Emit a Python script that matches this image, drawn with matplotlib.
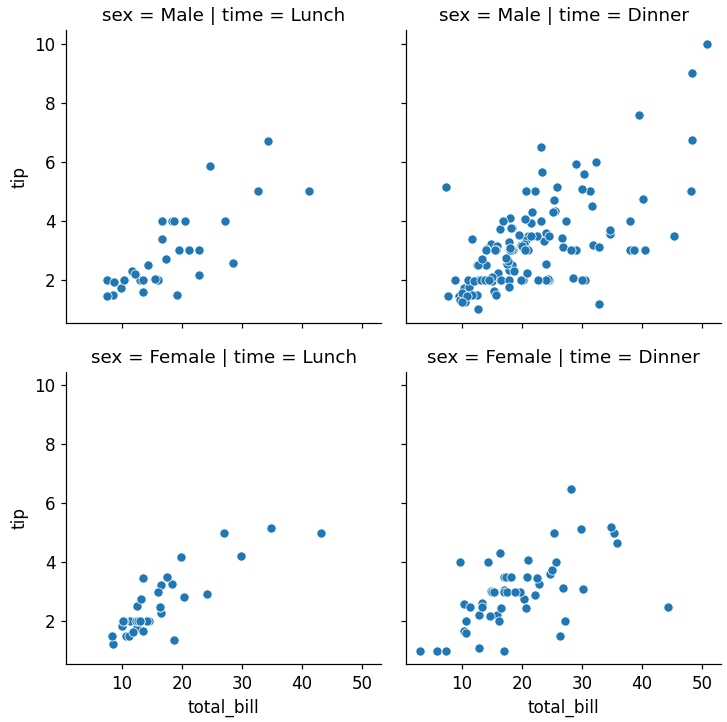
import pandas as pd
import seaborn as sns
import matplotlib.pyplot as plt

# tips data, split by panel (sex / time)
male_lunch_bill = [27.20, 22.76, 17.29, 19.44, 16.66, 32.68, 15.98, 13.03, 18.28, 24.71,
                   21.16, 11.69, 14.26, 15.95, 8.52, 22.82, 19.08, 16.00, 34.30, 41.19,
                   9.78, 7.51, 28.44, 15.48, 16.58, 7.56, 10.34, 13.51, 18.71, 20.53,
                   12.16, 8.58, 13.42]
male_lunch_tip = [4.00, 3.00, 2.71, 3.00, 3.40, 5.00, 2.03, 2.00, 4.00, 5.85,
                  3.00, 2.31, 2.50, 2.00, 1.48, 2.18, 1.50, 2.00, 6.70, 5.00,
                  1.73, 2.00, 2.56, 2.02, 4.00, 1.44, 2.00, 2.00, 4.00, 4.00,
                  2.20, 1.92, 1.58]

male_dinner_bill = [10.34, 21.01, 23.68, 25.29, 8.77, 26.88, 15.04, 14.78, 10.27, 15.42,
                    18.43, 21.58, 16.29, 20.65, 17.92, 39.42, 19.82, 17.81, 13.37, 12.69,
                    21.70, 9.55, 18.35, 17.78, 24.06, 16.31, 18.69, 31.27, 16.04, 17.46,
                    13.94, 9.68, 30.40, 18.29, 22.23, 32.40, 28.55, 18.04, 12.54, 9.94,
                    25.56, 19.49, 38.01, 11.24, 48.27, 20.29, 13.81, 11.02, 18.29, 17.59,
                    20.08, 20.23, 15.01, 12.02, 10.51, 17.92, 28.97, 22.49, 40.17, 27.28,
                    12.03, 21.01, 12.46, 15.36, 20.49, 25.21, 18.24, 14.00, 38.07, 23.95,
                    29.93, 14.07, 13.13, 17.26, 24.55, 19.77, 48.17, 16.49, 21.50, 12.66,
                    13.81, 24.52, 20.76, 31.71, 50.81, 15.81, 7.25, 31.85, 16.82, 32.90,
                    17.89, 14.48, 34.63, 34.65, 23.33, 45.35, 23.17, 40.55, 20.69, 30.46,
                    23.10, 15.69, 26.59, 38.73, 24.27, 30.06, 25.89, 48.33, 28.15, 11.59,
                    7.74, 20.45, 13.28, 24.01, 15.69, 11.61, 10.77, 15.53, 10.07, 12.60,
                    32.83, 29.03, 22.67, 17.82]
male_dinner_tip = [1.66, 3.50, 3.31, 4.71, 2.00, 3.12, 1.96, 3.23, 1.71, 1.57,
                   3.00, 3.92, 3.71, 3.35, 4.08, 7.58, 3.18, 2.34, 2.00, 2.00,
                   4.30, 1.45, 2.50, 3.27, 3.60, 2.00, 2.31, 5.00, 2.24, 2.54,
                   3.06, 1.32, 5.60, 3.00, 5.00, 6.00, 2.05, 3.00, 2.50, 1.56,
                   4.34, 3.51, 3.00, 1.76, 6.73, 3.21, 2.00, 1.98, 3.76, 2.64,
                   3.15, 2.01, 2.09, 1.97, 1.25, 3.08, 3.00, 3.50, 4.73, 4.00,
                   1.50, 3.00, 1.50, 1.64, 4.06, 4.29, 3.76, 3.00, 4.00, 2.55,
                   5.07, 2.50, 2.00, 2.74, 2.00, 2.00, 5.00, 2.00, 3.50, 2.50,
                   2.00, 3.48, 2.24, 4.50, 10.00, 3.16, 5.15, 3.18, 4.00, 3.11,
                   2.00, 2.00, 3.55, 3.68, 5.65, 3.50, 6.50, 3.00, 5.00, 2.00,
                   4.00, 1.50, 3.41, 3.00, 2.03, 2.00, 5.16, 9.00, 3.00, 1.50,
                   1.44, 3.00, 2.72, 2.00, 3.00, 3.39, 1.47, 3.00, 1.25, 1.00,
                   1.17, 5.92, 2.00, 1.75]

female_lunch_bill = [10.07, 34.83, 10.65, 12.43, 24.08, 13.42, 12.48, 29.80, 14.52, 11.38,
                     20.27, 11.17, 12.26, 18.26, 8.51, 10.33, 14.15, 13.16, 17.47, 27.05,
                     16.43, 8.35, 18.64, 11.87, 19.81, 43.11, 13.00, 12.74, 13.00, 16.40,
                     16.47, 13.42, 15.98, 16.27, 10.09]
female_lunch_tip = [1.83, 5.17, 1.50, 1.80, 2.92, 1.68, 2.52, 4.20, 2.00, 2.00,
                    2.83, 1.50, 2.00, 3.25, 1.25, 2.00, 2.00, 2.75, 3.50, 5.00,
                    2.30, 1.50, 1.36, 1.63, 4.19, 5.00, 2.00, 2.01, 2.00, 2.50,
                    3.23, 3.48, 3.00, 2.50, 2.00]

female_dinner_bill = [16.99, 24.59, 35.26, 14.83, 10.33, 16.97, 20.29, 15.77, 19.65, 15.06,
                      20.69, 16.93, 10.29, 34.81, 26.41, 16.45, 3.07, 17.07, 26.86, 25.28,
                      14.73, 5.75, 16.32, 22.75, 11.35, 15.38, 44.30, 22.42, 20.92, 14.31,
                      7.25, 25.71, 17.31, 29.85, 25.00, 13.39, 16.21, 17.51, 10.59, 10.63,
                      9.60, 20.90, 18.15, 12.76, 13.27, 28.17, 12.90, 30.14, 22.12, 35.83,
                      27.18, 18.78]
female_dinner_tip = [1.01, 3.61, 5.00, 3.02, 1.67, 3.50, 2.75, 2.23, 3.00, 3.00,
                     2.45, 3.07, 2.60, 5.20, 1.50, 2.47, 1.00, 3.00, 3.14, 5.00,
                     2.20, 1.00, 4.30, 3.25, 2.50, 3.00, 2.50, 3.48, 4.08, 4.00,
                     1.00, 4.00, 3.50, 5.14, 3.75, 2.61, 2.00, 3.00, 1.61, 2.00,
                     4.00, 3.50, 3.50, 2.23, 2.50, 6.50, 1.10, 3.09, 2.88, 4.67,
                     2.00, 3.00]

parts = []
for sex, time, bill, tip in [("Male", "Lunch", male_lunch_bill, male_lunch_tip),
                             ("Male", "Dinner", male_dinner_bill, male_dinner_tip),
                             ("Female", "Lunch", female_lunch_bill, female_lunch_tip),
                             ("Female", "Dinner", female_dinner_bill, female_dinner_tip)]:
    parts.append(pd.DataFrame({"total_bill": bill, "tip": tip, "sex": sex, "time": time}))
tips = pd.concat(parts, ignore_index=True)

plt.rcParams.update({
    "axes.labelsize": 11,
    "xtick.labelsize": 11,
    "ytick.labelsize": 11,
})

g = sns.relplot(data=tips, x="total_bill", y="tip", row="sex", col="time",
                row_order=["Male", "Female"], col_order=["Lunch", "Dinner"],
                height=3.3, aspect=1.0)
g.set_titles(size=12)
fig = g.figure
# reference is 727x722 px, looks rendered at ~110 dpi
fig.set_size_inches(727 / 110, 722 / 110)
fig.subplots_adjust(left=0.091, right=0.992, top=0.958, bottom=0.080,
                    wspace=0.079, hspace=0.168)
fig.savefig("out.png", dpi=110)
